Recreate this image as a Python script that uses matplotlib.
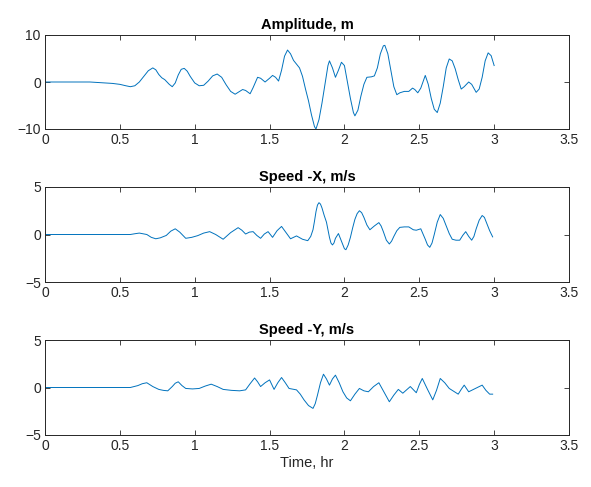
import matplotlib
matplotlib.use("Agg")
import matplotlib.pyplot as plt

plt.rcParams['font.family'] = ['Liberation Sans', 'DejaVu Sans']

# ---- data ----
t_amp = [0.00, 0.10, 0.20, 0.30, 0.40, 0.45, 0.50, 0.54, 0.57, 0.60, 0.63, 0.66, 0.69, 0.72,
         0.74, 0.76, 0.78, 0.80, 0.83, 0.85, 0.87, 0.89, 0.91, 0.93, 0.95, 0.97, 1.00, 1.03,
         1.06, 1.09, 1.12, 1.15, 1.18, 1.21, 1.24, 1.27, 1.30, 1.32, 1.34, 1.37, 1.39, 1.42,
         1.44, 1.47, 1.50, 1.52, 1.54, 1.56, 1.58, 1.60, 1.62, 1.64, 1.66, 1.68, 1.70, 1.72,
         1.74, 1.76, 1.78, 1.80, 1.81, 1.83, 1.85, 1.87, 1.89, 1.90, 1.92, 1.94, 1.96, 1.98,
         2.00, 2.02, 2.04, 2.06, 2.07, 2.09, 2.11, 2.13, 2.15, 2.18, 2.20, 2.22, 2.24, 2.26,
         2.27, 2.29, 2.31, 2.33, 2.35, 2.37, 2.40, 2.43, 2.455, 2.47, 2.49, 2.51, 2.54, 2.56,
         2.58, 2.60, 2.62, 2.64, 2.66, 2.68, 2.70, 2.72, 2.74, 2.76, 2.78, 2.80, 2.83, 2.85,
         2.88, 2.90, 2.92, 2.94, 2.96, 2.98, 3.00]
amplitude = [0, 0, 0, 0, -0.2, -0.3, -0.5, -0.8, -1.0, -0.8, 0.0, 1.2, 2.4, 3.0,
             2.6, 1.6, 0.9, 0.5, -0.5, -1.0, -0.2, 1.5, 2.7, 2.9, 2.3, 1.2, -0.2, -0.8,
             -0.7, 0.2, 1.3, 1.7, 1.0, -0.6, -2.0, -2.6, -2.0, -1.6, -1.8, -2.5, -1.2, 1.0,
             0.8, 0.0, 0.8, 1.4, 1.0, 0.2, 2.5, 5.5, 6.8, 6.0, 4.6, 3.8, 3.0, 1.2,
             -1.5, -4.0, -7.0, -9.5, -10.0, -8.0, -4.5, -0.5, 3.5, 4.5, 3.0, 1.0, 2.5, 4.2,
             3.5, 0.0, -3.5, -6.5, -7.2, -6.0, -3.0, -0.5, 1.0, 1.1, 1.3, 3.0, 6.0, 7.7,
             7.8, 6.0, 2.5, -1.0, -2.7, -2.3, -2.0, -2.0, -1.3, -1.6, -2.3, -1.3, 1.4, -0.5,
             -3.5, -5.8, -6.5, -4.5, -1.0, 3.0, 4.9, 4.5, 2.8, 0.5, -1.5, -1.0, 0.0, -0.5,
             -2.2, -1.5, 1.0, 4.5, 6.2, 5.6, 3.5]

t_vx = [0.00, 0.30, 0.57, 0.60, 0.63, 0.68, 0.71, 0.74, 0.77, 0.81, 0.84, 0.87, 0.90, 0.94,
        0.98, 1.02, 1.06, 1.10, 1.14, 1.19, 1.24, 1.29, 1.315, 1.34, 1.365, 1.39, 1.415, 1.44,
        1.465, 1.49, 1.52, 1.55, 1.58, 1.61, 1.64, 1.68, 1.72, 1.755, 1.775, 1.79, 1.80, 1.81,
        1.82, 1.83, 1.84, 1.85, 1.865, 1.88, 1.90, 1.91, 1.92, 1.93, 1.94, 1.96, 1.97, 1.985,
        2.00, 2.01, 2.025, 2.04, 2.055, 2.07, 2.085, 2.10, 2.115, 2.13, 2.15, 2.17, 2.20, 2.23,
        2.245, 2.26, 2.28, 2.30, 2.315, 2.33, 2.35, 2.37, 2.40, 2.43, 2.46, 2.48, 2.51, 2.54,
        2.555, 2.57, 2.585, 2.60, 2.62, 2.64, 2.66, 2.68, 2.70, 2.72, 2.745, 2.77, 2.79, 2.81,
        2.83, 2.85, 2.865, 2.88, 2.90, 2.92, 2.935, 2.95, 2.97, 2.99]
speed_x = [0, 0, 0, 0.08, 0.15, 0.0, -0.3, -0.45, -0.35, -0.1, 0.35, 0.6, 0.25, -0.4,
           -0.3, -0.12, 0.15, 0.3, 0.0, -0.5, 0.2, 0.72, 0.45, 0.05, 0.25, 0.3, -0.1, -0.4,
           0.05, 0.3, -0.3, 0.4, 0.85, 0.2, -0.45, -0.15, -0.5, -0.65, -0.2, 0.5, 1.4, 2.4,
           3.1, 3.35, 3.2, 2.8, 2.0, 1.3, -0.3, -0.9, -1.1, -0.9, -0.4, 0.1, -0.3, -0.9,
           -1.5, -1.6, -1.1, -0.3, 0.7, 1.6, 2.2, 2.5, 2.3, 1.8, 1.0, 0.5, 0.9, 1.25,
           0.9, 0.3, -0.6, -1.0, -0.7, -0.2, 0.4, 0.75, 0.8, 0.8, 0.5, 0.45, 0.6, -0.5,
           -1.1, -1.35, -0.9, 0.0, 1.3, 2.1, 1.7, 0.9, 0.1, -0.5, -0.6, -0.6, -0.1, 0.3,
           -0.2, -0.6, -0.2, 0.6, 1.5, 2.0, 1.8, 1.2, 0.4, -0.25]

t_vy = [0.00, 0.30, 0.57, 0.62, 0.65, 0.68, 0.72, 0.76, 0.79, 0.82, 0.85, 0.87, 0.89, 0.915,
        0.94, 0.985, 1.03, 1.07, 1.11, 1.15, 1.19, 1.245, 1.30, 1.34, 1.37, 1.40, 1.42, 1.44,
        1.47, 1.50, 1.515, 1.53, 1.555, 1.58, 1.605, 1.63, 1.68, 1.705, 1.73, 1.76, 1.79, 1.805,
        1.82, 1.84, 1.86, 1.88, 1.90, 1.92, 1.94, 1.965, 1.99, 2.015, 2.04, 2.07, 2.10, 2.13,
        2.16, 2.195, 2.23, 2.265, 2.30, 2.33, 2.36, 2.39, 2.44, 2.48, 2.50, 2.52, 2.555, 2.59,
        2.615, 2.64, 2.67, 2.70, 2.73, 2.76, 2.78, 2.80, 2.83, 2.875, 2.92, 2.945, 2.97, 2.99]
speed_y = [0, 0, 0, 0.2, 0.4, 0.5, 0.1, -0.2, -0.3, -0.35, 0.1, 0.45, 0.6, 0.2,
           -0.1, -0.15, -0.1, 0.15, 0.35, 0.1, -0.2, -0.3, -0.35, -0.25, 0.4, 1.0, 0.6, 0.1,
           0.5, 0.8, 0.3, -0.2, 0.5, 1.05, 0.5, -0.1, -0.25, -0.7, -1.3, -1.9, -2.2, -1.7,
           -0.8, 0.5, 1.4, 0.9, 0.25, 0.9, 1.3, 0.5, -0.45, -1.1, -1.4, -0.7, -0.1, -0.35,
           -0.45, 0.1, 0.5, -0.5, -1.5, -0.8, -0.2, -0.6, 0.1, -0.55, 0.3, 0.95, -0.2, -1.3,
           -0.3, 0.95, 0.5, -0.1, -0.4, -0.7, -0.2, 0.25, -0.45, -0.1, 0.25, -0.3, -0.7, -0.7]

titles = ["Amplitude, m", "Speed -X, m/s", "Speed -Y, m/s"]
ylims = [(-10, 10), (-5, 5), (-5, 5)]
yticks = [[-10, 0, 10], [-5, 0, 5], [-5, 0, 5]]
xticks = [0, 0.5, 1, 1.5, 2, 2.5, 3, 3.5]
xlabel = "Time, hr"

# ---- drawing ----
fig = plt.figure(figsize=(5.91, 4.87), dpi=100)
W, H = 591, 487
left_px, right_px = 45, 569
tops = [35, 187, 340]
heights = [94, 95, 95]
series = [(t_amp, amplitude), (t_vx, speed_x), (t_vy, speed_y)]
axc = '#262626'
line_color = '#0072BD'

for i in range(3):
    ax = fig.add_axes([left_px / W, 1 - (tops[i] + heights[i]) / H,
                       (right_px - left_px) / W, heights[i] / H])
    tt, vv = series[i]
    ax.plot(tt, vv, color=line_color, lw=0.7)
    ax.set_xlim(0, 3.5)
    ax.set_ylim(*ylims[i])
    ax.set_xticks(xticks)
    ax.set_xticklabels([f"{x:g}" for x in xticks])
    ax.set_yticks(yticks[i])
    ax.tick_params(direction='in', top=True, right=True, length=3.5, width=0.6,
                   labelsize=10, colors=axc, pad=3)
    for s in ax.spines.values():
        s.set_color(axc)
        s.set_linewidth(0.7)
    ax.set_title(titles[i], fontsize=10.5, fontweight='bold', color='black', pad=4)
    if i == 2:
        ax.set_xlabel(xlabel, fontsize=10.5, color=axc, labelpad=2)

fig.savefig("out.png", dpi=100)
